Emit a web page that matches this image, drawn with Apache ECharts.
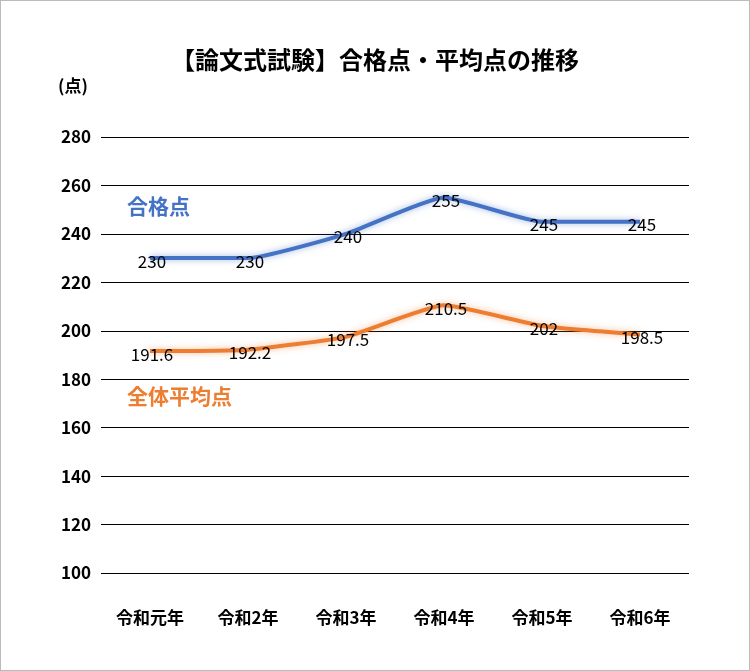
<!DOCTYPE html>
<html><head><meta charset="utf-8">
<script src="https://cdn.jsdelivr.net/npm/echarts@6/dist/echarts.min.js"></script>
<style>html,body{margin:0;padding:0;}#c{width:750px;height:671px;box-sizing:border-box;border:1px solid #bbb;}</style>
</head><body><div id="c"></div>
<script>
const categories=['令和元年','令和2年','令和3年','令和4年','令和5年','令和6年'];
const passScore=[230,230,240,255,245,245];
const avgScore=[191.6,192.2,197.5,210.5,202,198.5];
const F='"Noto Sans CJK JP", sans-serif';
const chart=echarts.init(document.getElementById('c'));
const lbl={show:true,position:'top',distance:0,offset:[2,12],color:'#000',fontSize:17,fontFamily:F};
chart.setOption({
 animation:false,
 title:{text:'【論文式試験】合格点・平均点の推移',left:'center',top:42,textStyle:{fontSize:24,fontWeight:'bold',color:'#000',fontFamily:F}},
 grid:{left:100,right:60,top:136,bottom:97},
 xAxis:{type:'category',data:categories,axisLine:{show:false},axisTick:{show:false},axisLabel:{margin:36,fontSize:17,fontWeight:'bold',color:'#000',fontFamily:F}},
 yAxis:{type:'value',min:100,max:280,interval:20,axisLabel:{fontSize:17,fontWeight:'bold',color:'#000',fontFamily:F,margin:10},splitLine:{lineStyle:{color:'#000',width:1}}},
 graphic:[
  {type:'text',left:57,top:76,style:{text:'(点)',fontSize:17,fontWeight:'bold',fill:'#000',fontFamily:F}},
  {type:'text',left:126,top:195,style:{text:'合格点',fontSize:21,fontWeight:'bold',fill:'#4472C4',fontFamily:F}},
  {type:'text',left:126,top:385,style:{text:'全体平均点',fontSize:21,fontWeight:'bold',fill:'#ED7D31',fontFamily:F}}
 ],
 series:[
  {type:'line',data:passScore,smooth:0.15,symbol:'circle',symbolSize:1,showSymbol:true,itemStyle:{color:'transparent'},lineStyle:{color:'#4472C4',width:4,shadowColor:'rgba(68,114,196,0.5)',shadowBlur:6},label:lbl},
  {type:'line',data:avgScore,smooth:0.15,symbol:'circle',symbolSize:1,showSymbol:true,itemStyle:{color:'transparent'},lineStyle:{color:'#ED7D31',width:4,shadowColor:'rgba(237,125,49,0.5)',shadowBlur:6},label:lbl}
 ]
});
</script></body></html>
